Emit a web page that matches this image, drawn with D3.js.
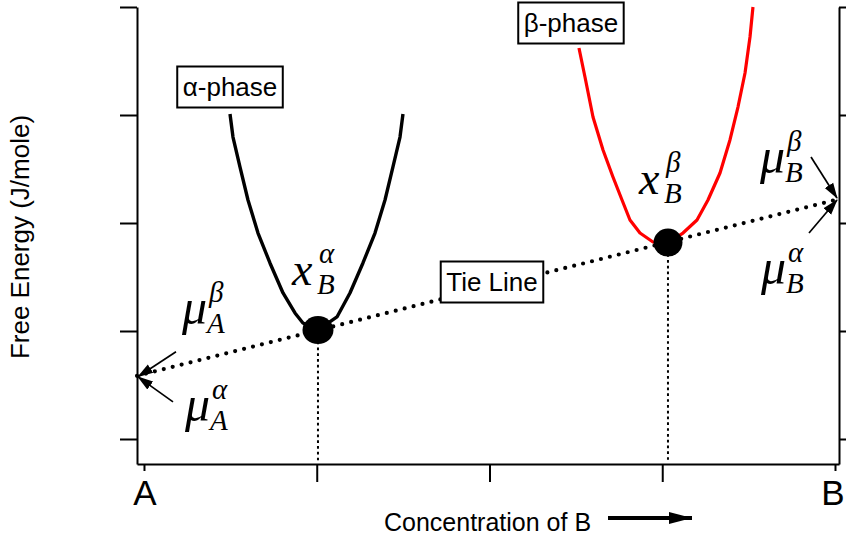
<!DOCTYPE html>
<html>
<head>
<meta charset="utf-8">
<script src="https://cdn.jsdelivr.net/npm/d3@7"></script>
<style>
  html, body { margin: 0; padding: 0; background: #fff; }
  svg { display: block; }
</style>
</head>
<body>
<svg id="chart" width="846" height="537"></svg>
<script>
// Free-energy curves of two phases (mole fraction of B vs. free energy)
const alphaConc = [0.1245, 0.1288, 0.1389, 0.1505, 0.1650, 0.1823, 0.2012, 0.2185, 0.2300, 0.2518,
                   0.2793, 0.2981, 0.3169, 0.3343, 0.3488, 0.3603, 0.3705, 0.3748];
const alphaG    = [3.009, 2.796, 2.519, 2.213, 1.907, 1.630, 1.352, 1.167, 1.074, 1.009,
                   1.130, 1.352, 1.630, 1.907, 2.213, 2.519, 2.796, 3.009];

const betaConc  = [0.6295, 0.6382, 0.6498, 0.6643, 0.6787, 0.6918, 0.7033, 0.7178, 0.7366, 0.7583,
                   0.7800, 0.8003, 0.8162, 0.8336, 0.8480, 0.8596, 0.8698, 0.8770, 0.8813];
const betaG     = [3.620, 3.352, 2.981, 2.676, 2.426, 2.213, 2.028, 1.907, 1.824, 1.819,
                   1.907, 2.028, 2.213, 2.463, 2.769, 3.074, 3.389, 3.722, 4.000];

// Equilibrium compositions (common-tangent points)
const eqConc = [0.2518, 0.7583];
const eqG    = [1.009, 1.819];

// Common tangent (tie line), between the two vertical axes
const tieConc = [-0.0101, 1.0058];
const tieG    = [0.585, 2.222];

// Axis ticks and labels
const yTicks = [0, 1, 2, 3, 4];
const xTicksEnd = [0, 1];
const xTicksMid = [0.25, 0.5, 0.75];
const xEndLabels = ["A", "B"];
const phaseLabels = ["\u03b1-phase", "\u03b2-phase"];
const xTitle = "Concentration of B";
const yTitle = "Free Energy (J/mole)";
const tieLabel = "Tie Line";

const svg = d3.select("#chart");
const frame = { left: 137, right: 839, top: 7, bottom: 464 };

const x = d3.scaleLinear().domain([-0.0101, 1.0058]).range([frame.left, frame.right]);
const y = d3.scaleLinear().domain([-0.2315, 4]).range([frame.bottom, frame.top]);

const SANS = "'Liberation Sans', Arial, sans-serif";
const SERIF = "'Liberation Serif', 'Times New Roman', serif";

const defs = svg.append("defs");
// arrowhead for the chemical-potential pointers
defs.append("marker")
  .attr("id", "head")
  .attr("markerUnits", "userSpaceOnUse")
  .attr("viewBox", "0 -6 16 12")
  .attr("refX", 15).attr("refY", 0)
  .attr("markerWidth", 16).attr("markerHeight", 12)
  .attr("orient", "auto")
  .append("path").attr("d", "M0,-5L16,0L0,5Z").attr("fill", "#000");
// arrowhead for the x-title direction arrow
defs.append("marker")
  .attr("id", "head2")
  .attr("markerUnits", "userSpaceOnUse")
  .attr("viewBox", "0 -7 24 14")
  .attr("refX", 23).attr("refY", 0)
  .attr("markerWidth", 24).attr("markerHeight", 14)
  .attr("orient", "auto")
  .append("path").attr("d", "M0,-6L23,0L0,6Z").attr("fill", "#000");

// ---- axes ----
function styleAxis(g) {
  g.selectAll("path, line").attr("stroke", "#000").attr("stroke-width", 2);
  g.selectAll("text").remove();
}

svg.append("g").attr("transform", `translate(${frame.left},0)`)
  .call(d3.axisLeft(y).tickValues(yTicks).tickSize(17).tickSizeOuter(0).tickFormat(""))
  .call(styleAxis);

svg.append("g").attr("transform", `translate(${frame.right},0)`)
  .call(d3.axisRight(y).tickValues(yTicks).tickSize(17).tickSizeOuter(0).tickFormat(""))
  .call(styleAxis);

svg.append("g").attr("transform", `translate(0,${frame.bottom})`)
  .call(d3.axisBottom(x).tickValues(xTicksEnd).tickSize(7).tickSizeOuter(0).tickFormat(""))
  .call(styleAxis);

svg.append("g").attr("transform", `translate(0,${frame.bottom})`)
  .call(d3.axisBottom(x).tickValues(xTicksMid).tickSize(18).tickSizeOuter(0).tickFormat(""))
  .call(styleAxis)
  .select(".domain").remove();

// ---- drop lines from the equilibrium points ----
svg.selectAll(".drop").data(eqConc).join("line")
  .attr("class", "drop")
  .attr("x1", d => x(d)).attr("x2", d => x(d))
  .attr("y1", (d, i) => y(eqG[i])).attr("y2", frame.bottom - 2)
  .attr("stroke", "#000").attr("stroke-width", 2)
  .attr("stroke-dasharray", "2.7,3.1");

// ---- tie line ----
const line = d3.line().x(d => x(d[0])).y(d => y(d[1]));
svg.append("path")
  .datum(d3.zip(tieConc, tieG))
  .attr("d", line)
  .attr("fill", "none").attr("stroke", "#000")
  .attr("stroke-width", 4.2).attr("stroke-linecap", "round")
  .attr("stroke-dasharray", "0,9.2");

// ---- free-energy curves ----
svg.append("path")
  .datum(d3.zip(alphaConc, alphaG))
  .attr("d", line)
  .attr("fill", "none").attr("stroke", "#000")
  .attr("stroke-width", 3.4).attr("stroke-linejoin", "round");

svg.append("path")
  .datum(d3.zip(betaConc, betaG))
  .attr("d", line)
  .attr("fill", "none").attr("stroke", "#ff0000")
  .attr("stroke-width", 3.2).attr("stroke-linejoin", "round");

// ---- equilibrium points ----
svg.selectAll(".eq").data(eqConc).join("ellipse")
  .attr("class", "eq")
  .attr("cx", d => x(d)).attr("cy", (d, i) => y(eqG[i]))
  .attr("rx", (d, i) => i === 0 ? 15.5 : 14.5)
  .attr("ry", 14)
  .attr("fill", "#000");

// ---- boxed labels ----
function boxLabel(cx, baseline, text) {
  const g = svg.append("g");
  const t = g.append("text")
    .attr("x", cx).attr("y", baseline)
    .attr("text-anchor", "middle")
    .attr("font-family", SANS).attr("font-size", 26)
    .attr("fill", "#000").text(text);
  const b = t.node().getBBox();
  g.insert("rect", "text")
    .attr("x", b.x - 5.5).attr("y", b.y - 5.5)
    .attr("width", b.width + 11).attr("height", b.height + 11)
    .attr("fill", "#fff").attr("stroke", "#000").attr("stroke-width", 2);
}
boxLabel(x(alphaConc[0]), 96, phaseLabels[0]);
boxLabel(x(betaConc[0]) - 8, 32, phaseLabels[1]);
boxLabel(492, 291, tieLabel);

// ---- math labels: main symbol with subscript and superscript ----
function mathLabel(px, py, main, sub, sup, size) {
  const g = svg.append("g").attr("font-family", SERIF).attr("font-style", "italic").attr("fill", "#000");
  g.append("text").attr("x", px).attr("y", py).attr("font-size", size).text(main);
  g.append("text").attr("x", px + 25).attr("y", py + 9).attr("font-size", 29).text(sub);
  g.append("text").attr("x", px + 27).attr("y", py - 22).attr("font-size", 29).text(sup);
}
const MU = "\u03bc", AL = "\u03b1", BE = "\u03b2";

mathLabel(x(eqConc[0]) - 26, y(eqG[0]) - 45, "x", "B", AL, 46);
mathLabel(x(eqConc[1]) - 29, y(eqG[1]) - 49, "x", "B", BE, 46);

const lx = x(tieConc[0]), ly = y(tieG[0]);
const rx = x(tieConc[1]), ry = y(tieG[1]);
mathLabel(lx + 45, ly - 52, MU, "A", BE, 50);
mathLabel(lx + 48, ly + 45, MU, "A", AL, 50);
mathLabel(rx - 79, ry - 26, MU, "B", BE, 50);
mathLabel(rx - 78, ry + 85, MU, "B", AL, 50);

// ---- chemical-potential arrows ----
function arrow(x1, y1, x2, y2) {
  svg.append("line")
    .attr("x1", x1).attr("y1", y1).attr("x2", x2).attr("y2", y2)
    .attr("stroke", "#000").attr("stroke-width", 1.7)
    .attr("marker-end", "url(#head)");
}
arrow(lx + 39, ly - 24, lx + 1, ly + 1);
arrow(lx + 36, ly + 26, lx + 1, ly + 1);
arrow(rx - 28, ry - 42, rx - 2, ry - 1);
arrow(rx - 30, ry + 34, rx - 2, ry + 1);

// ---- end labels A / B ----
svg.selectAll(".endlab").data(xTicksEnd).join("text")
  .attr("class", "endlab")
  .attr("x", (d, i) => i === 0 ? x(d) + 1 : x(d) - 2)
  .attr("y", 505)
  .attr("text-anchor", "middle")
  .attr("font-family", SANS).attr("font-size", 35)
  .attr("fill", "#000")
  .text((d, i) => xEndLabels[i]);

// ---- axis titles ----
svg.append("text")
  .attr("x", 384).attr("y", 531)
  .attr("font-family", SANS).attr("font-size", 25)
  .attr("fill", "#000").text(xTitle);

// direction-of-increase arrow beside the x title
svg.append("line")
  .attr("x1", 608).attr("y1", 518).attr("x2", 692).attr("y2", 518)
  .attr("stroke", "#000").attr("stroke-width", 3.8)
  .attr("marker-end", "url(#head2)");

svg.append("text")
  .attr("transform", "translate(29,237) rotate(-90)")
  .attr("text-anchor", "middle")
  .attr("font-family", SANS).attr("font-size", 26)
  .attr("fill", "#000").text(yTitle);
</script>
</body>
</html>
